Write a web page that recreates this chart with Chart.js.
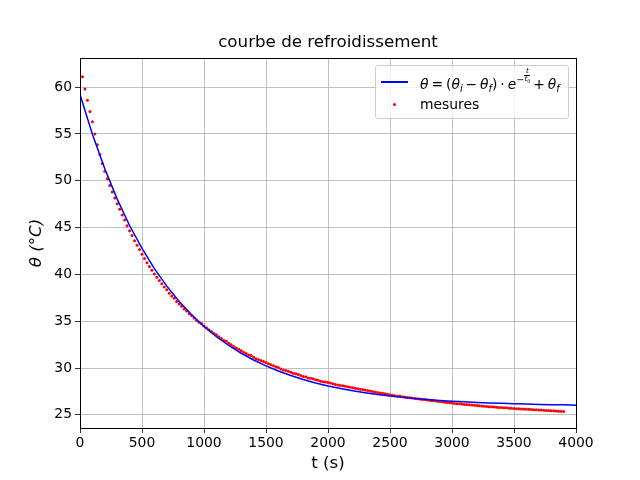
<!DOCTYPE html>
<html>
<head>
<meta charset="utf-8">
<title>courbe de refroidissement</title>
<script src="https://cdn.jsdelivr.net/npm/chart.js@4.4.1/dist/chart.umd.min.js"></script>
<style>
  body { margin: 0; background: #fff; }
  #wrap { position: relative; width: 640px; height: 480px; }
  #myChart { position: absolute; left: 0; top: 0; }
  #legend {
    position: absolute; left: 375px; top: 65px; width: 194px; height: 54px;
    box-sizing: border-box; border: 1px solid #cccccc; border-radius: 3px;
    background: rgba(255, 255, 255, 0.8);
    font-family: "DejaVu Sans"; font-size: 13.9px; color: #000;
  }
  #legend .lineKey { position: absolute; left: 5px; top: 15px; width: 27px; height: 2px; background: #0000ff; }
  #legend .dotKey { position: absolute; left: 17px; top: 37px; width: 3px; height: 3px; border-radius: 50%; background: #ff0000; }
  #legend .txt { position: absolute; left: 44px; white-space: nowrap; line-height: 16px; }
  #legend .formula { word-spacing: -1.5px; }
  #legend sub, #legend sup { font-size: 70%; line-height: 0; }
  #legend .frac { display: inline-block; vertical-align: 2px; font-size: 7px; text-align: center; line-height: 7px; word-spacing: 0; }
  #legend .frac span { display: block; }
  #legend .frac .den { border-top: 0.6px solid #000; }
</style>
</head>
<body>
<div id="wrap">
  <canvas id="myChart" width="640" height="480"></canvas>
  <div id="legend">
    <div class="lineKey"></div>
    <div class="txt formula" style="top:2px"><i>θ</i> = (<i>θ</i><sub><i>i</i></sub> − <i>θ</i><sub><i>f</i></sub>) · <i>e</i><sup>−<span class="frac"><span><i>t</i></span><span class="den"><i>t</i><sub>0</sub></span></span></sup> + <i>θ</i><sub><i>f</i></sub></div>
    <div class="dotKey"></div>
    <div class="txt" style="top:30px">mesures</div>
  </div>
</div>
<script>
// measured temperatures (s, °C)
const measureTimes = [20, 40, 60, 80, 100, 120, 140, 160, 180, 200,
  220, 240, 260, 280, 300, 320, 340, 360, 380, 400,
  420, 440, 460, 480, 500, 520, 540, 560, 580, 600,
  620, 640, 660, 680, 700, 720, 740, 760, 780, 800,
  820, 840, 860, 880, 900, 920, 940, 960, 980, 1000,
  1020, 1040, 1060, 1080, 1100, 1120, 1140, 1160, 1180, 1200,
  1220, 1240, 1260, 1280, 1300, 1320, 1340, 1360, 1380, 1400,
  1420, 1440, 1460, 1480, 1500, 1520, 1540, 1560, 1580, 1600,
  1620, 1640, 1660, 1680, 1700, 1720, 1740, 1760, 1780, 1800,
  1820, 1840, 1860, 1880, 1900, 1920, 1940, 1960, 1980, 2000,
  2020, 2040, 2060, 2080, 2100, 2120, 2140, 2160, 2180, 2200,
  2220, 2240, 2260, 2280, 2300, 2320, 2340, 2360, 2380, 2400,
  2420, 2440, 2460, 2480, 2500, 2520, 2540, 2560, 2580, 2600,
  2620, 2640, 2660, 2680, 2700, 2720, 2740, 2760, 2780, 2800,
  2820, 2840, 2860, 2880, 2900, 2920, 2940, 2960, 2980, 3000,
  3020, 3040, 3060, 3080, 3100, 3120, 3140, 3160, 3180, 3200,
  3220, 3240, 3260, 3280, 3300, 3320, 3340, 3360, 3380, 3400,
  3420, 3440, 3460, 3480, 3500, 3520, 3540, 3560, 3580, 3600,
  3620, 3640, 3660, 3680, 3700, 3720, 3740, 3760, 3780, 3800,
  3820, 3840, 3860, 3880, 3900];
const measureTemps = [61.1, 59.8, 58.6, 57.4, 56.3, 55.0, 53.85, 52.8, 51.85, 51.0,
  50.2, 49.5, 48.8, 48.15, 47.55, 46.95, 46.35, 45.8, 45.2, 44.65,
  44.15, 43.6, 43.1, 42.65, 42.15, 41.7, 41.25, 40.85, 40.45, 40.05,
  39.7, 39.35, 39.0, 38.65, 38.35, 38.0, 37.7, 37.45, 37.1, 36.85,
  36.6, 36.3, 36.1, 35.8, 35.6, 35.35, 35.1, 34.9, 34.75, 34.5,
  34.3, 34.1, 33.9, 33.7, 33.55, 33.35, 33.15, 32.95, 32.85, 32.65,
  32.5, 32.3, 32.15, 32.0, 31.85, 31.7, 31.55, 31.4, 31.35, 31.15,
  31.0, 30.9, 30.8, 30.7, 30.6, 30.45, 30.35, 30.25, 30.15, 30.05,
  29.9, 29.8, 29.75, 29.65, 29.55, 29.45, 29.4, 29.3, 29.2, 29.1,
  29.08, 28.95, 28.9, 28.85, 28.75, 28.7, 28.6, 28.55, 28.5, 28.45,
  28.4, 28.32, 28.25, 28.2, 28.15, 28.1, 28.05, 28.0, 27.95, 27.9,
  27.85, 27.8, 27.75, 27.7, 27.65, 27.6, 27.55, 27.5, 27.45, 27.4,
  27.35, 27.3, 27.25, 27.2, 27.15, 27.1, 27.05, 27.0, 27.02, 26.93,
  26.9, 26.85, 26.82, 26.8, 26.75, 26.72, 26.7, 26.65, 26.63, 26.6,
  26.55, 26.52, 26.5, 26.45, 26.42, 26.4, 26.35, 26.32, 26.3, 26.26,
  26.22, 26.2, 26.18, 26.15, 26.12, 26.1, 26.08, 26.06, 26.02, 26.0,
  25.97, 25.95, 25.92, 25.9, 25.88, 25.86, 25.84, 25.82, 25.8, 25.78,
  25.76, 25.75, 25.72, 25.7, 25.68, 25.66, 25.65, 25.63, 25.62, 25.6,
  25.59, 25.57, 25.56, 25.55, 25.53, 25.52, 25.5, 25.48, 25.46, 25.45,
  25.43, 25.41, 25.4, 25.38, 25.36];

// fitted model
const fitTimes = [0, 100, 200, 300, 400, 500, 600, 700, 800, 900,
  1000, 1100, 1200, 1300, 1400, 1500, 1600, 1700, 1800, 1900,
  2000, 2100, 2200, 2300, 2400, 2500, 2600, 2700, 2800, 2900,
  3000, 3100, 3200, 3300, 3400, 3500, 3600, 3700, 3800, 3900, 4000];
const fitTemps = [59.2, 54.96, 51.27, 48.04, 45.22, 42.77, 40.62, 38.75, 37.11, 35.69,
  34.44, 33.36, 32.41, 31.58, 30.86, 30.23, 29.68, 29.2, 28.78, 28.41,
  28.09, 27.81, 27.57, 27.36, 27.17, 27.01, 26.87, 26.75, 26.64, 26.54,
  26.46, 26.39, 26.33, 26.27, 26.23, 26.19, 26.15, 26.12, 26.09, 26.07, 26.04];

const xTicks = [0, 500, 1000, 1500, 2000, 2500, 3000, 3500, 4000];
const yTicks = [25, 30, 35, 40, 45, 50, 55, 60];

Chart.defaults.font.family = "'DejaVu Sans'";
Chart.defaults.color = "#000";

// matplotlib style frame around the axes
const framePlugin = {
  id: "frame",
  afterDraw(chart) {
    const { ctx, chartArea: a } = chart;
    ctx.save();
    ctx.strokeStyle = "#000";
    ctx.lineWidth = 1;
    ctx.strokeRect(Math.round(a.left) + 0.5, Math.round(a.top) + 0.5,
      Math.round(a.right - a.left), Math.round(a.bottom - a.top));
    ctx.restore();
  }
};

const fitPoints = fitTimes.map((t, i) => ({ x: t, y: fitTemps[i] }));
const measurePoints = measureTimes.map((t, i) => ({ x: t, y: measureTemps[i] }));

const config = {
  type: "scatter",
  data: {
    datasets: [
      {
        label: "modèle",
        data: fitPoints,
        showLine: true,
        borderColor: "#0000ff",
        borderWidth: 1.5,
        pointRadius: 0,
        tension: 0
      },
      {
        label: "mesures",
        data: measurePoints,
        backgroundColor: "#ff0000",
        borderWidth: 0,
        pointRadius: 1.5
      }
    ]
  },
  options: {
    responsive: false,
    animation: false,
    devicePixelRatio: 1,
    layout: { padding: { left: 0, right: 64, top: 0, bottom: 0 } },
    plugins: {
      legend: { display: false },
      tooltip: { enabled: false },
      title: {
        display: true,
        fullSize: false,
        text: "courbe de refroidissement",
        font: { size: 16.7, weight: "normal" },
        padding: { top: 33, bottom: 5 }
      }
    },
    scales: {
      x: {
        type: "linear",
        min: 0,
        max: 4000,
        afterBuildTicks: s => { s.ticks = xTicks.map(v => ({ value: v })); },
        afterFit: s => { s.height = 52; },
        ticks: { font: { size: 13.9 }, padding: 2, maxRotation: 0, callback: v => String(v) },
        grid: { color: "#b0b0b0", lineWidth: 0.8, tickColor: "#000", tickLength: 5 },
        border: { display: false },
        title: { display: true, text: "t (s)", font: { size: 16.7 }, padding: { top: 0, bottom: 6 } }
      },
      y: {
        type: "linear",
        min: 23.6,
        max: 63.1,
        afterBuildTicks: s => { s.ticks = yTicks.map(v => ({ value: v })); },
        afterFit: s => { s.width = 80; },
        ticks: { font: { size: 13.9 }, padding: 3, callback: v => String(v) },
        grid: { color: "#b0b0b0", lineWidth: 0.8, tickColor: "#000", tickLength: 5 },
        border: { display: false },
        title: { display: true, text: "θ (°C)", font: { size: 16.7, style: "italic" }, padding: { top: 27, bottom: 0 } }
      }
    }
  },
  plugins: [framePlugin]
};

const myChart = new Chart(document.getElementById("myChart"), config);
</script>
</body>
</html>
